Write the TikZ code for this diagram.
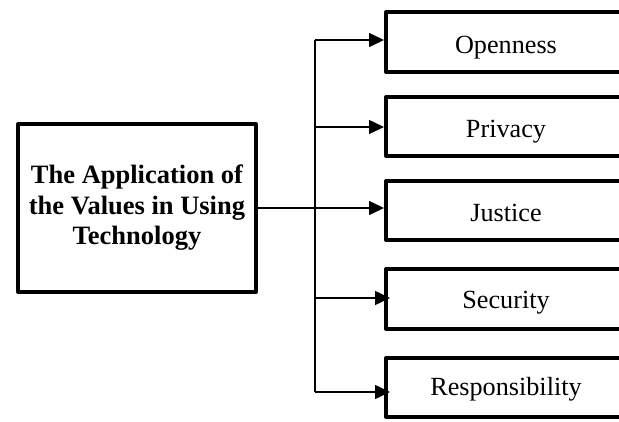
\documentclass[tikz,border=0pt]{standalone}
\usepackage{fontspec}
\setmainfont{Liberation Serif}
\usetikzlibrary{arrows.meta}
\begin{document}
\begin{tikzpicture}[x=1pt,y=-1pt,
  mainbox/.style={draw, line width=4pt, line join=round, align=center, inner sep=0pt,
    minimum width=238pt, minimum height=168pt, font=\fontsize{26.5}{30.5}\selectfont\bfseries},
  valbox/.style={draw, line width=4pt, line join=round, inner sep=0pt, text depth=0pt,
    minimum width=240pt, font=\fontsize{26.2}{30}\selectfont},
  conn/.style={line width=1.5pt},
  arr/.style={conn, -{Triangle[length=15pt,width=14pt]}}
]
\clip (0,0) rectangle (619,421);
\fill[white] (0,0) rectangle (619,421);
\node[mainbox] (main) at (137,208) {The Application of\\the Values in Using\\Technology};
\node[valbox, minimum height=60pt, text height=22pt] (open) at (506,42) {Openness};
\node[valbox, minimum height=59pt, text height=21pt] (priv) at (506,126.5) {Privacy};
\node[valbox, minimum height=59pt, text height=22pt] (just) at (506,210.5) {Justice};
\node[valbox, minimum height=60pt, text height=18pt] (secu) at (506,299) {Security};
\node[valbox, minimum height=59pt, text height=15pt] (resp) at (506,387.5) {Responsibility};
\coordinate (t1) at (315,40);
\coordinate (t2) at (315,127);
\coordinate (t3) at (315,208);
\coordinate (t4) at (315,298);
\coordinate (t5) at (315,392);
\draw[conn] (t1) -- (t5);
\draw[arr] (t1) -- (open.west |- t1);
\draw[arr] (t2) -- (priv.west |- t2);
\draw[arr] (main.east) -- (just.west |- main.east);
\draw[arr, shorten >=-6pt] (t4) -- (secu.west |- t4);
\draw[arr, shorten >=-6pt] (t5) -- (resp.west |- t5);
\end{tikzpicture}
\end{document}
